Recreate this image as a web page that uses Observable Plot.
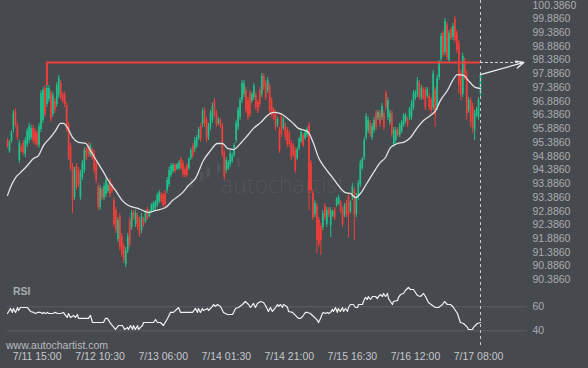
<!DOCTYPE html>
<html>
<head>
<meta charset="utf-8">
<script src="https://cdn.jsdelivr.net/npm/d3@7"></script>
<script src="https://cdn.jsdelivr.net/npm/@observablehq/plot@0.6"></script>
<style>
  html, body { margin: 0; padding: 0; background: #46494e; }
  #wrap { position: relative; width: 588px; height: 368px; overflow: hidden; background: #46494e;
          font-family: "Liberation Sans", Arial, sans-serif; }
  #main, #rsi { position: absolute; left: 0; }
  #main { top: 0; }
  #rsi { top: 280px; }
  .wm { position: absolute; left: 221px; top: 173px; font: 300 23px "Open Sans", sans-serif;
        line-height: 23px; color: rgba(255,255,255,0.075); white-space: nowrap; }
  .wmbar { position: absolute; width: 3px; background: rgba(255,255,255,0.06); }
  .rsilbl { position: absolute; left: 13px; top: 286px; font: bold 10.5px "Liberation Sans", Arial, sans-serif;
            color: #a9acb1; line-height: 11px; }
  .site { position: absolute; left: 6px; top: 339px; font: 10.5px "Liberation Sans", Arial, sans-serif;
          color: #b9bcc0; line-height: 12px; }
</style>
</head>
<body>
<div id="wrap">
  <div class="wmbar" style="left:190px;top:178px;height:10px"></div>
  <div class="wmbar" style="left:200px;top:172px;height:9px"></div>
  <div class="wmbar" style="left:207px;top:167px;height:10px"></div>
  <div class="wmbar" style="left:217px;top:163px;height:10px"></div>
  <div class="wmbar" style="left:227px;top:160px;height:10px"></div>
  <div class="wmbar" style="left:237px;top:158px;height:9px"></div>
  <div class="wm">autochartist</div>
  <div id="main"></div>
  <div id="rsi"></div>
  <div class="rsilbl">RSI</div>
  <div class="site">www.autochartist.com</div>
</div>
<script>
// ---- Candles (bar index 0..240) ----
const open = [
95.46,95.06,95.42,95.86,96.51,96.01,94.73,95.20,95.35,94.95,
95.31,95.46,95.57,95.90,95.79,95.71,95.28,95.86,96.19,97.35,
96.77,96.95,97.17,96.41,96.88,96.77,97.10,97.53,97.13,97.10,
96.73,96.01,95.24,94.51,93.38,94.51,94.37,93.38,94.11,94.37,
95.13,95.28,94.91,95.13,94.99,94.62,93.78,93.02,93.67,93.38,
93.49,93.60,93.97,93.82,93.27,92.91,91.85,92.69,91.96,91.60,
90.94,91.45,92.55,92.29,92.84,92.40,92.69,92.55,92.18,92.58,
92.51,92.95,92.69,92.87,92.91,92.98,93.09,93.24,93.49,93.46,
93.53,93.64,93.86,94.18,94.33,94.55,94.40,94.44,94.77,94.62,
94.40,94.55,94.44,94.80,95.24,95.13,95.24,95.53,95.97,96.04,
96.55,96.19,95.57,95.93,96.19,96.88,96.44,96.08,96.19,95.97,
94.99,94.37,94.44,94.58,94.69,94.91,95.46,95.93,96.30,96.92,
97.13,97.28,96.92,97.17,96.88,97.02,97.10,96.84,97.28,97.13,
97.79,97.53,97.28,97.43,96.92,96.59,96.44,96.01,95.82,96.33,
95.90,95.97,95.82,95.71,95.35,95.28,95.09,94.80,95.17,95.42,
95.64,95.53,95.64,96.01,94.62,93.53,92.76,93.06,92.55,92.33,
92.29,93.06,92.40,92.95,92.36,92.69,92.95,93.09,93.16,93.20,
92.91,92.73,93.16,93.42,92.87,93.38,93.64,92.76,93.38,93.86,
94.44,94.84,95.57,95.82,96.08,95.57,95.82,96.44,96.26,96.44,
96.30,96.44,97.17,96.30,96.11,96.44,95.31,95.46,95.86,95.64,
95.79,96.01,96.15,96.22,96.26,96.30,96.66,96.99,97.13,97.53,
97.02,97.32,97.28,97.06,97.06,96.92,96.66,97.28,96.66,97.75,
98.41,99.36,98.66,99.65,98.37,99.50,99.21,99.87,99.36,98.99,
97.90,97.13,98.34,97.83,96.55,96.92,96.70,95.82,96.37,96.30,
97.13];
const high = [
95.53,95.46,95.82,96.55,96.62,96.11,95.46,95.28,95.46,95.57,
95.90,96.08,96.01,96.01,95.90,95.82,96.08,97.28,97.39,97.46,
97.46,97.46,97.28,97.21,96.99,97.57,97.83,97.64,97.21,97.21,
96.84,96.11,95.35,94.62,94.48,94.62,94.48,94.37,94.73,95.20,
95.20,95.39,95.35,95.20,95.09,94.73,93.89,93.82,93.75,93.89,
94.11,93.89,94.08,93.89,93.38,93.02,92.65,92.80,92.07,91.71,
91.56,92.07,92.65,92.91,92.91,92.91,92.80,92.65,92.80,92.65,
92.91,93.02,92.91,93.16,93.24,93.27,93.53,93.64,93.56,93.53,
93.64,94.11,94.48,94.62,94.62,94.62,94.62,94.73,94.84,94.73,
94.48,94.62,94.84,95.17,95.35,95.57,95.64,95.93,96.08,96.62,
96.66,96.30,96.08,96.55,96.81,96.99,96.55,96.30,96.26,96.08,
95.09,94.84,94.73,95.09,94.99,95.35,96.19,96.66,97.02,97.64,
97.64,97.39,97.02,97.28,97.21,97.53,97.21,96.92,97.39,97.90,
97.90,97.64,97.75,97.53,97.02,96.66,96.55,96.30,95.93,96.44,
96.30,96.08,95.93,95.82,95.46,95.35,95.20,95.20,95.57,95.82,
95.71,95.82,95.93,96.11,94.73,93.64,93.27,93.16,92.65,92.44,
92.91,93.16,93.02,93.02,93.02,92.91,93.02,93.38,93.46,93.27,
93.02,93.16,93.27,93.53,93.27,93.89,93.75,93.53,94.00,94.73,
94.84,95.57,96.44,96.30,96.19,96.08,96.30,96.55,96.55,96.55,
96.81,96.55,97.28,97.02,96.55,96.55,95.93,95.93,95.93,96.08,
96.19,96.44,96.44,96.30,96.66,96.92,97.28,97.28,97.75,97.64,
97.46,97.39,97.39,97.39,97.17,97.02,98.01,97.39,97.83,98.37,
99.36,99.46,99.90,99.76,99.46,99.57,99.72,99.97,99.46,99.10,
98.01,98.63,98.45,98.01,97.02,97.02,96.81,96.55,96.66,97.02,
97.86];
const low = [
95.17,94.99,95.35,95.75,95.93,95.46,94.62,94.99,94.91,94.84,
95.20,95.35,95.46,95.35,95.28,95.20,95.17,95.75,96.08,96.30,
96.66,96.84,96.11,96.30,96.44,96.66,96.99,96.92,96.81,96.66,
95.75,94.73,94.37,92.80,93.27,93.64,93.75,93.27,94.00,94.26,
94.73,94.84,94.84,94.73,94.26,93.89,92.91,92.91,93.27,93.27,
93.38,93.53,93.38,93.53,92.29,92.07,91.74,91.45,91.20,90.98,
90.83,91.34,91.56,92.18,92.55,92.29,92.18,91.93,92.07,92.29,
92.44,92.55,92.65,92.80,92.84,92.91,93.02,93.16,93.16,93.02,
93.02,93.53,93.75,94.11,94.26,94.26,94.37,94.37,94.37,94.11,
94.11,94.11,94.37,94.73,94.80,95.02,95.17,95.46,95.39,95.93,
95.93,95.39,95.46,95.82,96.08,96.30,95.93,96.01,95.90,94.84,
94.00,94.26,94.37,94.48,94.62,94.84,95.35,95.82,96.19,96.81,
97.02,96.44,96.19,96.30,96.81,96.92,96.55,96.44,96.66,97.02,
97.28,96.92,97.17,96.44,96.30,96.19,95.82,95.93,94.99,95.57,
95.82,95.46,95.20,95.20,94.73,94.84,94.26,94.73,95.09,95.35,
95.20,95.46,95.57,92.91,93.53,92.55,92.65,91.34,91.56,91.27,
92.18,92.55,92.29,92.65,91.93,92.65,92.55,93.02,93.09,92.80,
92.29,92.65,92.65,91.93,92.80,93.27,91.82,92.65,93.27,93.75,
94.37,94.73,95.46,95.71,95.57,95.46,95.71,95.82,96.19,95.93,
96.19,95.82,96.55,96.19,96.01,95.57,95.20,95.35,95.57,95.57,
95.71,95.93,96.08,95.93,96.19,96.19,96.55,96.92,97.02,96.92,
96.92,96.92,96.55,96.99,96.55,96.44,96.55,95.93,96.55,97.64,
98.30,98.48,98.55,98.37,98.26,99.10,99.10,98.99,98.63,97.17,
96.92,97.02,97.64,96.19,96.44,95.93,95.71,95.46,96.30,96.19,
97.02];
const close = [
95.24,95.39,95.75,96.44,96.04,95.57,95.35,95.06,95.02,95.46,
95.79,95.97,95.90,95.46,95.39,95.31,95.97,97.17,97.28,96.41,
97.35,97.35,96.22,97.10,96.55,97.46,97.72,97.02,96.88,96.77,
95.86,94.84,94.48,93.27,94.37,93.75,93.86,94.26,94.62,95.09,
94.80,94.95,95.28,94.80,94.37,94.00,93.02,93.71,93.35,93.78,
94.00,93.82,93.49,93.60,92.40,92.18,92.55,91.56,91.31,91.09,
91.45,91.96,91.67,92.80,92.62,92.80,92.29,92.04,92.69,92.36,
92.84,92.62,92.87,93.09,93.16,93.20,93.46,93.56,93.24,93.09,
93.13,94.00,94.37,94.55,94.55,94.33,94.58,94.66,94.44,94.22,
94.18,94.18,94.77,95.09,94.91,95.46,95.57,95.86,95.50,96.51,
96.04,95.50,95.97,96.44,96.70,96.41,96.04,96.22,95.97,94.95,
94.11,94.73,94.66,94.99,94.91,95.28,96.08,96.55,96.92,97.53,
97.53,96.55,96.30,96.41,97.13,97.43,96.66,96.51,96.77,97.79,
97.39,97.02,97.64,96.55,96.41,96.26,95.93,96.22,95.09,95.68,
96.22,95.57,95.31,95.31,94.84,94.91,94.37,95.13,95.50,95.75,
95.28,95.75,95.86,93.64,93.64,92.65,93.16,91.82,91.67,91.82,
92.80,92.65,92.91,92.73,92.91,92.87,92.62,93.31,93.38,92.87,
92.40,93.09,92.76,92.73,93.20,93.78,92.73,93.42,93.89,94.62,
94.77,95.46,96.33,96.19,95.68,95.97,96.19,95.93,96.48,96.04,
96.70,95.93,96.66,96.92,96.44,95.68,95.82,95.82,95.64,96.01,
96.11,96.37,96.37,96.01,96.59,96.81,97.17,97.21,97.64,97.02,
97.35,96.99,96.66,97.32,96.66,96.55,97.90,96.37,97.72,98.26,
99.25,98.59,99.79,98.48,99.36,99.17,99.61,99.10,98.74,97.46,
97.10,98.52,97.75,96.44,96.92,96.11,95.90,96.44,96.59,96.92,
97.86];

// ---- Moving average (bar index, price) ----
const maIdx = [0,1.5,4.1,6.6,10.1,13.2,15.7,18.3,21.8,24.4,26.9,28.4,30.4,33.0,36.0,39.6,42.1,45.7,48.2,51.2,
  54.8,58.3,61.4,66.5,71.5,75.1,80.2,83.7,88.8,91.8,95.4,99.4,103.0,106.5,109.1,111.6,114.7,118.2,121.8,124.8,
  128.4,131.9,135.0,138.5,142.1,144.6,147.6,151.2,152.7,155.3,157.8,161.3,164.9,167.9,171.5,174.0,176.6,179.1,182.6,185.7,
  189.2,191.8,194.3,197.9,200.9,204.5,208.0,211.1,214.6,217.2,219.7,223.2,225.8,228.3,231.4,233.9,237.4,240];
const maVal = [93.46,93.75,94.11,94.29,94.55,94.80,94.91,95.28,95.57,95.82,96.08,96.08,95.93,95.57,95.39,95.35,95.09,94.66,94.37,94.00,
  93.64,93.27,93.09,92.98,92.84,92.91,93.02,93.27,93.56,93.82,94.08,94.73,95.09,95.35,95.35,95.17,95.13,95.35,95.64,95.90,
  96.11,96.37,96.48,96.44,96.26,96.11,95.90,95.82,95.75,95.35,94.84,94.44,94.11,93.82,93.56,93.53,93.38,93.53,93.93,94.29,
  94.66,94.84,95.20,95.35,95.39,95.57,95.93,96.19,96.37,96.55,96.92,97.28,97.64,97.86,97.83,97.64,97.39,97.35];

// ---- RSI (bar index, value) ----
const rsiIdx = [0,1.5,2.5,3.0,4.1,5.1,5.6,6.6,8.1,10.1,11.7,13.2,14.2,15.2,16.7,17.8,18.3,19.3,20.3,20.8,
  22.8,24.4,25.4,26.9,28.4,29.4,30.4,30.9,32.0,33.5,34.5,35.5,36.0,38.6,41.1,42.1,43.1,45.7,48.7,49.7,
  50.7,52.3,54.8,56.3,58.3,59.4,60.9,61.4,62.4,63.5,63.9,64.9,66.0,66.5,67.5,68.5,69.0,71.0,74.1,75.1,
  76.1,77.6,79.1,81.2,82.7,84.2,86.3,86.8,87.8,90.3,93.9,95.4,96.4,96.9,97.9,98.9,99.4,101.5,102.0,104.0,
  104.5,105.5,106.5,108.1,109.6,111.6,114.2,115.7,117.2,119.2,120.7,122.3,
  123.3,124.8,125.8,126.8,128.4,129.9,130.9,132.4,133.4,134.4,136.0,137.0,137.5,138.5,139.5,140.0,141.0,142.1,142.6,144.6,
  146.1,147.6,148.7,149.7,151.2,152.2,153.7,155.3,156.3,157.3,157.8,158.8,159.8,160.3,161.3,162.4,162.9,163.9,164.9,165.4,
  166.4,167.4,167.9,168.9,170.0,170.5,171.5,172.5,173.0,174.0,175.5,176.6,177.6,178.1,180.1,180.6,181.6,182.6,183.1,184.2,
  185.2,186.7,187.7,188.2,189.2,190.3,190.8,191.8,192.8,193.3,195.3,195.8,197.9,198.4,199.4,200.9,201.9,203.4,204.5,206.0,
  208.0,209.5,211.1,212.1,213.6,215.6,217.2,218.7,220.7,221.7,223.2,224.8,226.3,228.3,229.8,231.4,233.4,233.9,235.9,236.4,
  237.4,238.4,240];
const rsiVal = [54.4,58.6,55.3,58.6,55.3,59.4,56.9,59.4,59.4,59.4,56.1,55.3,54.4,55.3,55.3,54.4,55.3,54.4,55.3,54.4,
  54.4,55.3,54.4,54.4,55.3,52.8,51.1,54.4,51.1,52.8,51.1,53.6,50.3,50.3,50.3,52.8,46.9,46.9,46.9,50.3,
  50.3,46.1,41.1,44.4,44.4,41.1,42.8,41.1,44.4,41.1,44.4,41.1,44.4,41.1,42.8,44.4,46.9,46.9,46.9,49.4,
  46.9,46.9,44.4,50.3,55.3,55.3,58.6,59.4,55.3,55.3,55.3,58.6,55.3,58.6,55.3,58.6,56.9,58.6,56.9,60.3,
  61.9,60.3,61.9,60.3,55.3,53.6,53.6,58.6,59.4,61.9,64.4,61.9,
  59.4,62.8,59.4,62.8,64.4,63.6,61.1,56.1,59.4,56.1,59.4,61.9,60.3,61.9,59.4,61.9,61.1,59.4,56.1,55.3,
  52.8,50.3,50.3,51.9,55.3,55.3,54.4,51.9,50.3,48.6,46.9,50.3,54.4,55.3,54.4,55.3,54.4,55.3,57.8,56.1,
  59.4,55.3,58.6,56.1,59.4,56.1,58.6,56.1,59.4,61.9,61.9,59.4,59.4,61.9,61.9,64.4,67.8,66.1,68.6,66.1,
  68.6,68.6,66.9,68.6,70.2,68.6,71.1,68.6,71.1,66.9,61.9,64.4,65.3,67.8,70.2,71.1,73.6,76.1,74.4,74.4,
  69.4,68.6,71.1,68.6,63.6,61.1,59.4,59.4,61.9,64.4,61.9,61.9,59.4,54.4,46.9,46.1,42.8,41.1,41.1,42.8,
  44.4,46.1,46.9];

// ---- Level / target ----
const level = 98.30;
const levelStart = 20;
const targetIdx = 262;

// ---- Axes ----
const yTicks = [100.386,99.886,99.386,98.886,98.386,97.886,97.386,96.886,96.386,95.886,95.386,
  94.886,94.386,93.886,93.386,92.886,92.386,91.886,91.386,90.886,90.386];
const rsiTicks = [60, 40];
const xTickIdx = [15, 47, 79, 111, 143, 175, 207, 239];
const xLabels = ["7/11 15:00","7/12 10:30","7/13 06:00","7/14 01:30","7/14 21:00","7/15 16:30","7/16 12:00","7/17 08:00"];

const GREEN = "#1fc08a", RED = "#f03f3a";
const FONT = '"Liberation Sans", Arial, sans-serif';
const lastIdx = open.length - 1;

const candles = open.map((o, i) => ({i, o, h: high[i], l: low[i], c: close[i], col: close[i] >= o ? GREEN : RED}));
const maRows = maIdx.map((x, k) => ({x, y: maVal[k]}));
const n = Math.min(rsiIdx.length, rsiVal.length);
const rsiRows = rsiIdx.slice(0, n).map((x, k) => ({x, y: rsiVal[k]}));

const mainPlot = Plot.plot({
  width: 588, height: 288,
  marginLeft: 0, marginRight: 57, marginTop: 0, marginBottom: 0,
  style: {background: "transparent", color: "#a9acb1", fontFamily: FONT, overflow: "visible"},
  x: {domain: [0, lastIdx], range: [7, 480], axis: null},
  y: {domain: [90.386, 100.386], range: [279.3, 4.7]},
  color: {type: "identity"},
  marks: [
    Plot.ruleX(candles, {x: "i", y1: "l", y2: "h", stroke: "col", strokeWidth: 1}),
    Plot.ruleX(candles, {x: "i", y1: "o", y2: "c", stroke: "col", strokeWidth: 1.7}),
    Plot.line(maRows, {x: "x", y: "y", stroke: "#e2e2e2", strokeWidth: 1.3, curve: "monotone-x"}),
    Plot.ruleX([lastIdx], {stroke: "#c4c6c9", strokeDasharray: "3,3", strokeWidth: 1}),
    Plot.ruleY([{y: level, x1: levelStart, x2: lastIdx}], {y: "y", x1: "x1", x2: "x2", stroke: RED, strokeWidth: 2}),
    Plot.ruleX([{x: levelStart, y1: level, y2: high[levelStart]}], {x: "x", y1: "y1", y2: "y2", stroke: RED, strokeWidth: 2}),
    Plot.ruleY([{y: level, x1: lastIdx, x2: targetIdx}], {y: "y", x1: "x1", x2: "x2", stroke: "#d6d6d6", strokeWidth: 1, strokeDasharray: "3,2"}),
    Plot.arrow([{x1: lastIdx, y1: close[lastIdx], x2: targetIdx, y2: level}],
      {x1: "x1", y1: "y1", x2: "x2", y2: "y2", stroke: "#efefef", strokeWidth: 1.3, headLength: 10, headAngle: 50}),
    Plot.axisY(yTicks, {anchor: "right", tickSize: 0, tickPadding: 1, tickFormat: d => d.toFixed(4),
      fontSize: 10.5, fill: "#a9acb1", label: null})
  ]
});
document.getElementById("main").appendChild(mainPlot);

const rsiPlot = Plot.plot({
  width: 588, height: 88,
  marginLeft: 7, marginRight: 61, marginTop: 8, marginBottom: 20,
  style: {background: "transparent", color: "#a9acb1", fontFamily: FONT, overflow: "visible"},
  x: {domain: [0, lastIdx], range: [7, 480]},
  y: {domain: [40, 60], range: [50.3, 26.3]},
  marks: [
    Plot.ruleY(rsiTicks, {stroke: "#5c5f65", strokeWidth: 1}),
    Plot.ruleX([lastIdx], {stroke: "#c4c6c9", strokeDasharray: "3,3", strokeWidth: 1}),
    Plot.line(rsiRows, {x: "x", y: "y", stroke: "#f0f0f0", strokeWidth: 1.2}),
    Plot.axisY(rsiTicks, {anchor: "right", tickSize: 0, tickPadding: 5, fontSize: 10.5, fill: "#a9acb1", label: null}),
    Plot.axisX(xTickIdx, {tickSize: 0, tickPadding: 4, tickFormat: d => xLabels[xTickIdx.indexOf(d)],
      fontSize: 10.5, fill: "#c5c7ca", label: null})
  ]
});
document.getElementById("rsi").appendChild(rsiPlot);
</script>
</body>
</html>
